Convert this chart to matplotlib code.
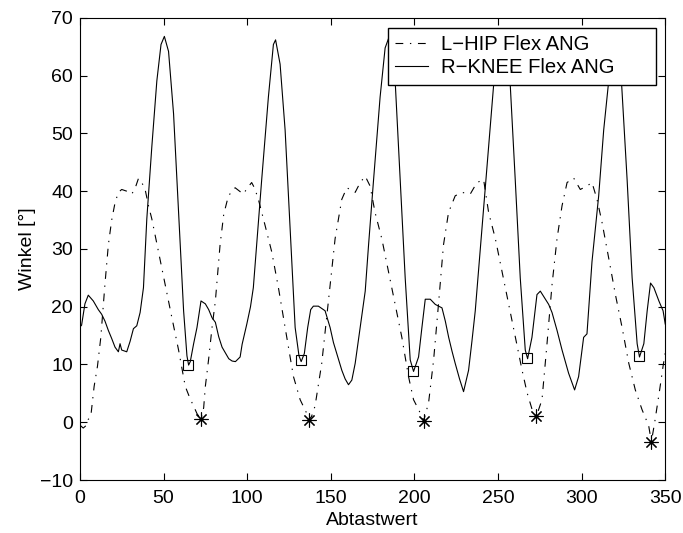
import matplotlib
matplotlib.use("Agg")
import matplotlib.pyplot as plt

# R-KNEE flexion angle (sample index, degrees)
knee_x = [0, 1, 3, 5, 8, 11, 13, 15, 17, 19, 21, 23, 24, 25, 27, 28, 30, 32, 34, 36,
          38, 40, 43, 46, 48.5, 50.5, 53, 56, 59, 62, 64, 65, 66, 68, 70, 72.4, 75, 77, 79, 81,
          83, 85, 87, 89, 91, 93, 95.8, 97, 99.8, 102, 103.7, 105.7, 108.7, 112.7, 115.7, 117,
          119.7, 122.7, 125.7, 128.7, 131, 132.3, 134.2, 136.2, 138, 139.6, 142.6, 146.6, 149.6,
          151.6, 153.6, 156.6, 158.6, 160.6, 162.6, 164.6, 167.6, 170.6, 172.6, 175.6, 179.5,
          182.5, 185.5, 188.5, 191.5, 194.5, 197.5, 199.5, 202.5, 204.5, 206.5, 209.5, 212.5,
          216.5, 218.5, 220.5, 222.5, 224.4, 227, 229.4, 232.4, 234.4, 236.4, 238.4, 240.4,
          244.4, 248.4, 251.5, 254, 257.3, 260.3, 263.3, 266.3, 267.7, 270.3, 273.3, 275.3,
          278.3, 280.3, 282.3, 285.3, 288.3, 292.2, 295.8, 298.2, 301.2, 303.2, 306.2, 310.2,
          313.2, 316.2, 319, 320.5, 322, 323.8, 327.2, 330.2, 333.2, 334.6, 337.2, 339.2, 341.2,
          343.2, 346.2, 348.7, 350]
knee_y = [16.5, 16.8, 20.5, 22, 21, 19.5, 18.7, 17.5, 15.9, 14.5, 13, 12.2, 13.6, 12.5, 12.3,
          12.2, 14, 16.2, 16.7, 19, 23.3, 35.2, 47.7, 59.1, 65.4, 66.8, 64.2, 53.4, 36.3, 19.3,
          11.5, 9.9, 10.5, 13.6, 16.4, 21, 20.5, 19.5, 18.1, 17.3, 14.8, 13, 12, 11, 10.6, 10.5,
          11.3, 13.5, 17, 20, 23.3, 30.7, 42, 56.3, 65.4, 66.2, 62, 50.6, 33.5, 16.4, 11.5, 10.5,
          11.9, 16.4, 19.5, 20.1, 20.1, 19.3, 16.4, 13.8, 11.9, 9, 7.5, 6.5, 7.3, 10.2, 16.4,
          22.7, 30.7, 42, 56.3, 64.8, 67.2, 59.1, 42, 25, 10.8, 8.8, 11.3, 16.4, 21.3, 21.3,
          20.4, 19.8, 17.5, 14.7, 12.3, 10.2, 7.5, 5.3, 9, 14, 19.3, 26.5, 33.5, 47.7, 62, 67,
          65, 58.5, 42, 25, 12.5, 11, 14.7, 22.1, 22.7, 21.3, 20.4, 19, 15.9, 12.5, 8.5, 5.6,
          7.9, 14.7, 15.3, 27.8, 39.2, 50.6, 59.1, 66, 67, 65, 59.1, 42, 25, 13.6, 11.3, 13.6,
          19.3, 24.1, 23.3, 21, 19.3, 17]

# L-HIP flexion angle
hip_x = [0, 2, 4, 5, 6.5, 8.5, 10.5, 12.5, 15, 17, 19, 21, 23, 25, 28, 31, 33, 35, 37, 39,
         41, 43, 47, 51, 55, 59, 63, 66, 68, 70, 72.4, 74, 75, 77, 79, 81, 83.8, 86, 88.8,
         92.8, 97.7, 100, 102.7, 104.5, 106.7, 110.7, 114.7, 118.7, 122.7, 127.7, 131.7, 135.7,
         136.8, 138.5, 140.6, 144.6, 148.6, 152.6, 156.6, 159.6, 164.6, 167.6, 170.6, 173.5,
         176.5, 180.5, 184.5, 188.5, 192.5, 196.5, 199.5, 202.5, 205.6, 208.5, 211.5, 214.4,
         217.4, 220.4, 224.4, 228.4, 233.4, 237.4, 241.4, 244.4, 248.4, 252.4, 256.4, 260.4,
         264.4, 267.4, 270.4, 272.9, 276.3, 279.3, 282.3, 285.3, 288.3, 291.3, 295.2, 299.2,
         303.2, 306.2, 309.2, 312.2, 316.2, 320.2, 324.2, 328.2, 332.1, 336.1, 340.1, 341.7,
         343.7, 346.7, 348.7, 350]
hip_y = [-0.5, -1, -0.5, 0.5, 1, 6.2, 9.7, 14.7, 24, 30.7, 35, 38, 39.8, 40.3, 40, 39.5,
         40.5, 42.2, 41.5, 40.3, 37.5, 35.2, 29.5, 23.8, 18.1, 12.5, 6.2, 4, 2.8, 1.5, 0.5,
         2.5, 6.2, 11, 16.4, 21, 30.7, 36, 39.2, 40.6, 39.5, 40.5, 41.5, 40.5, 38.6, 34.1,
         29.5, 23.3, 16.4, 7.9, 3.9, 1.5, 0.4, 1, 2.8, 10.2, 21, 31.8, 38.6, 40.6, 39.8, 41.5,
         42.6, 40.9, 36.3, 31.8, 26.1, 20.4, 14.7, 7.9, 3.9, 2.2, 0.3, 3.4, 10.8, 20.4, 30.7,
         36.3, 39.2, 39.8, 39.5, 41.5, 42, 36.3, 31.8, 26.1, 20.4, 14.7, 9, 5.1, 2.2, 1.0, 3.9,
         13.6, 23.8, 31.8, 37.5, 41.5, 42.3, 40.3, 40.9, 41.5, 38.6, 34.6, 28.4, 22.1, 16.4,
         10.2, 5.6, 2.2, -0.6, -3.4, 0, 5.7, 9.7, 12]

# knee minima (squares) and hip minima (stars)
sq_x = [64.6, 132.3, 199.3, 267.5, 334.5]
sq_y = [9.9, 10.8, 8.8, 11.1, 11.5]
st_x = [72.4, 136.8, 205.6, 272.9, 341.7]
st_y = [0.5, 0.4, 0.3, 1.0, -3.4]

plt.rcParams['font.family'] = ['Liberation Sans', 'DejaVu Sans']

fig = plt.figure(figsize=(6.83, 5.33), dpi=100)
ax = fig.add_axes([0.117, 0.0994, 0.857, 0.867])

ax.plot(hip_x, hip_y, color='black', lw=0.8, linestyle=(0, (7, 6, 1.2, 6)),
        label='L\u2212HIP Flex ANG')
ax.plot(knee_x, knee_y, color='black', lw=0.8, label='R\u2212KNEE Flex ANG')
ax.plot(sq_x, sq_y, linestyle='none', marker='s', markersize=7,
        markerfacecolor='none', markeredgecolor='black', markeredgewidth=0.8)
ax.plot(st_x, st_y, linestyle='none', marker=(8, 2, 0), markersize=10,
        color='black', markeredgewidth=0.8)

ax.set_xlim(0, 350)
ax.set_ylim(-10, 70)
ax.set_xticks(range(0, 351, 50))
ax.set_yticks(range(-10, 71, 10))
ax.set_yticklabels(['\u221210'] + [str(v) for v in range(0, 71, 10)])
ax.tick_params(direction='in', length=5, width=0.8, top=True, right=True,
               labelsize=14)
ax.tick_params(axis='x', pad=7)
ax.tick_params(axis='y', pad=5)
for s in ax.spines.values():
    s.set_linewidth(0.8)

ax.set_xlabel('Abtastwert', fontsize=14, labelpad=4)
ax.set_ylabel('Winkel [°]', fontsize=14, labelpad=3)

# wide MATLAB-style legend box, text left aligned
leg = ax.legend(loc='upper left', bbox_to_anchor=(0.5265, 0.5, 0.4581, 0.478),
                mode='expand', fontsize=14.6, frameon=True, fancybox=False,
                edgecolor='black', framealpha=1, borderpad=0.36, labelspacing=0.2,
                handlelength=1.6, handletextpad=0.65, borderaxespad=0)
leg.get_frame().set_linewidth(1.0)

fig.savefig('out.png', dpi=100)
